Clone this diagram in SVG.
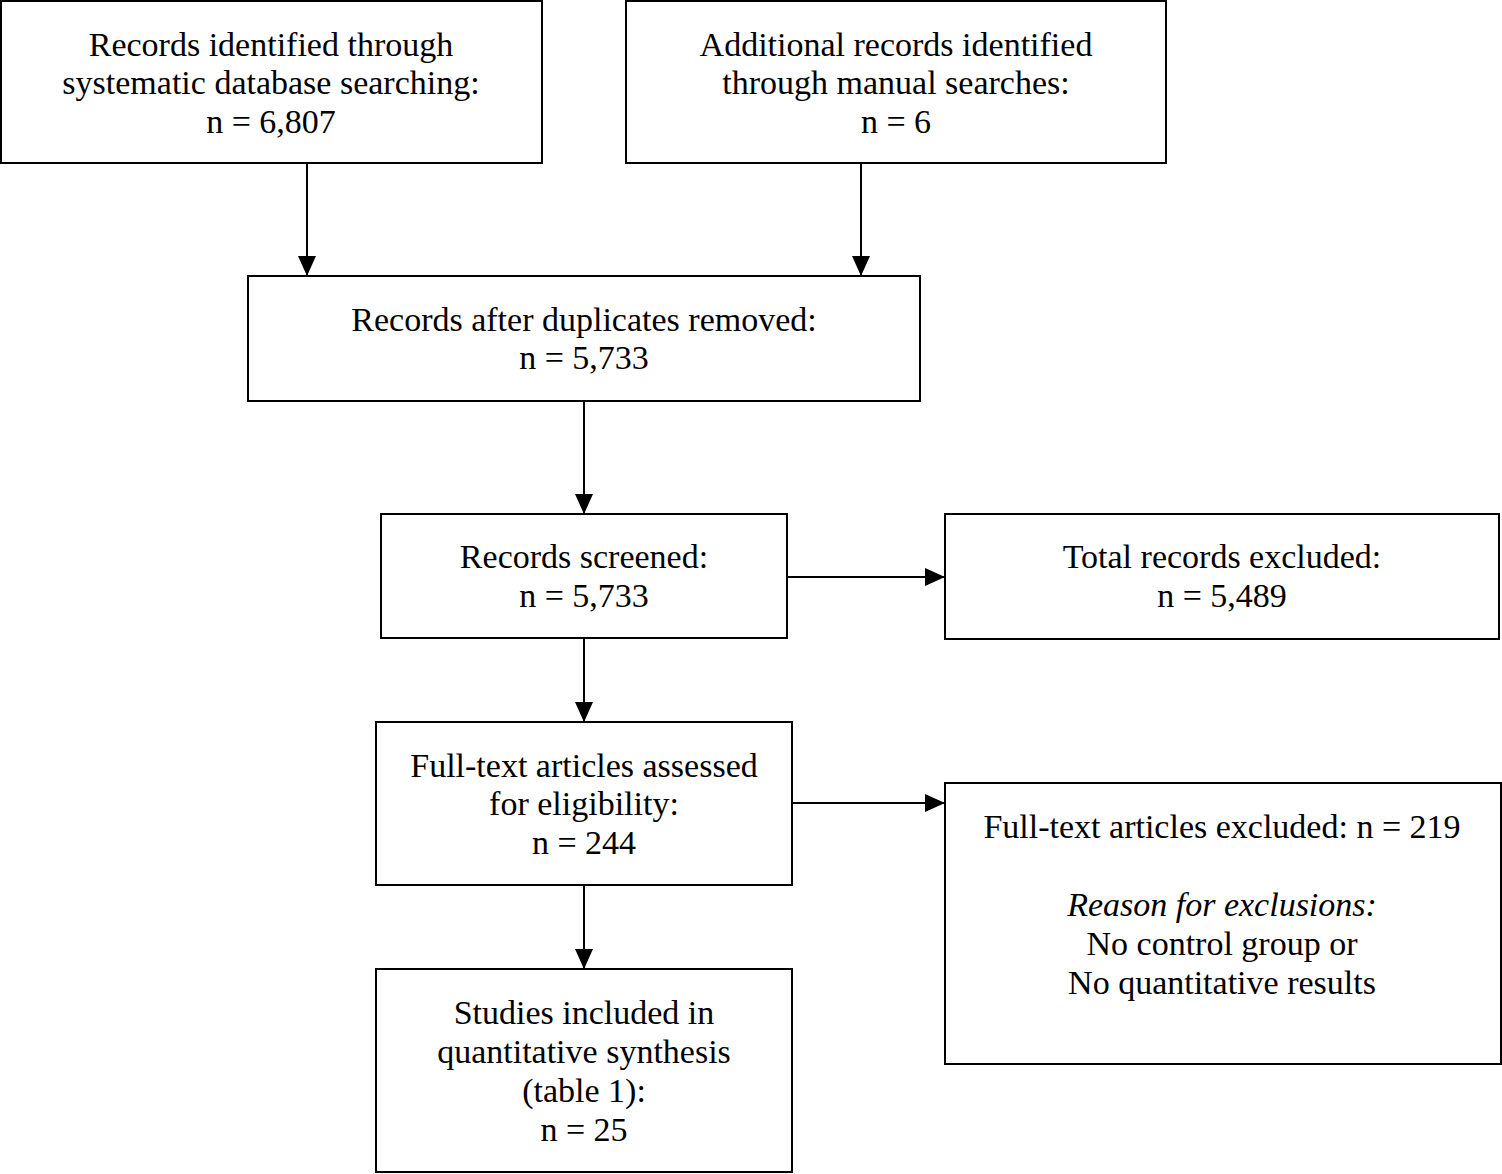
<svg xmlns="http://www.w3.org/2000/svg" width="1502" height="1174" viewBox="0 0 1502 1174">
<defs>
<style>
.box{fill:#fff;stroke:#000;stroke-width:2}
.t{font-family:"Liberation Serif","Times New Roman",serif;font-size:34px;fill:#000;text-anchor:middle}
.i{font-style:italic}
.c{stroke:#000;stroke-width:2;fill:none}
</style>
<marker id="ah" markerWidth="20" markerHeight="18" refX="20" refY="9" orient="auto" markerUnits="userSpaceOnUse">
<path d="M0,0 L20,9 L0,18 Z" fill="#000"/>
</marker>
</defs>
<rect width="1502" height="1174" fill="#fff"/>
<g id="connectors">
<line class="c" x1="307" y1="163" x2="307" y2="276" marker-end="url(#ah)"/>
<line class="c" x1="861" y1="163" x2="861" y2="276" marker-end="url(#ah)"/>
<line class="c" x1="584" y1="401" x2="584" y2="514" marker-end="url(#ah)"/>
<line class="c" x1="787" y1="577" x2="945" y2="577" marker-end="url(#ah)"/>
<line class="c" x1="584" y1="638" x2="584" y2="722" marker-end="url(#ah)"/>
<line class="c" x1="792" y1="803" x2="945" y2="803" marker-end="url(#ah)"/>
<line class="c" x1="584" y1="885" x2="584" y2="969" marker-end="url(#ah)"/>
</g>
<g id="n1">
<rect class="box" x="1" y="1" width="541" height="162"/>
<text class="t" x="271" y="56">Records identified through</text>
<text class="t" x="271" y="94">systematic database searching:</text>
<text class="t" x="271" y="133">n = 6,807</text>
</g>
<g id="n2">
<rect class="box" x="626" y="1" width="540" height="162"/>
<text class="t" x="896" y="56">Additional records identified</text>
<text class="t" x="896" y="94">through manual searches:</text>
<text class="t" x="896" y="133">n = 6</text>
</g>
<g id="n3">
<rect class="box" x="248" y="276" width="672" height="125"/>
<text class="t" x="584" y="331">Records after duplicates removed:</text>
<text class="t" x="584" y="369">n = 5,733</text>
</g>
<g id="n4">
<rect class="box" x="381" y="514" width="406" height="124"/>
<text class="t" x="584" y="568">Records screened:</text>
<text class="t" x="584" y="607">n = 5,733</text>
</g>
<g id="n5">
<rect class="box" x="945" y="514" width="554" height="125"/>
<text class="t" x="1222" y="568">Total records excluded:</text>
<text class="t" x="1222" y="607">n = 5,489</text>
</g>
<g id="n6">
<rect class="box" x="376" y="722" width="416" height="163"/>
<text class="t" x="584" y="777">Full-text articles assessed</text>
<text class="t" x="584" y="815">for eligibility:</text>
<text class="t" x="584" y="854">n = 244</text>
</g>
<g id="n7">
<rect class="box" x="945" y="783" width="556" height="281"/>
<text class="t" x="1222" y="838">Full-text articles excluded: n = 219</text>
<text class="t i" x="1222" y="916">Reason for exclusions:</text>
<text class="t" x="1222" y="955">No control group or</text>
<text class="t" x="1222" y="994">No quantitative results</text>
</g>
<g id="n8">
<rect class="box" x="376" y="969" width="416" height="203"/>
<text class="t" x="584" y="1024">Studies included in</text>
<text class="t" x="584" y="1063">quantitative synthesis</text>
<text class="t" x="584" y="1102">(table 1):</text>
<text class="t" x="584" y="1141">n = 25</text>
</g>
</svg>
